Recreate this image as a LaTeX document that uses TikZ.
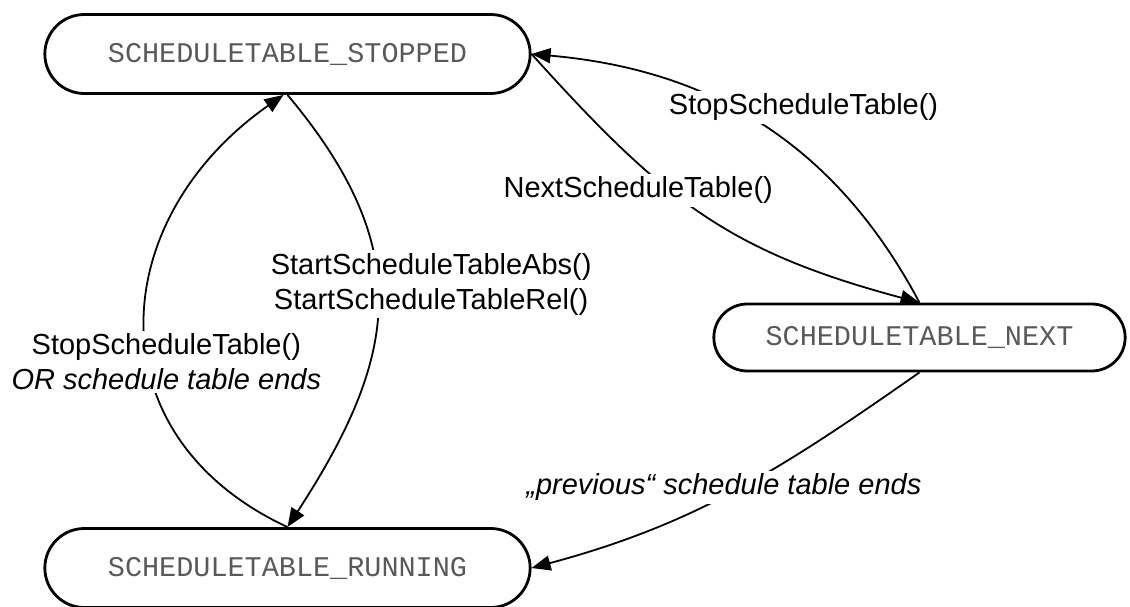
\documentclass[tikz,border=0pt]{standalone}
\usepackage{fontspec}
\setmainfont{Liberation Sans}
\setmonofont{Liberation Mono}
\usepackage{tikz}
\usetikzlibrary{shapes.misc,arrows.meta,positioning}

\tikzset{statebox/.style={rounded rectangle,draw,line width=2.8pt,minimum width=492pt,minimum height=79pt,
    text=black!65,font=\ttfamily\fontsize{28.5}{34}\selectfont}}
\tikzset{trans/.style={->,line width=1.8pt}}
\tikzset{translabel/.style={fill=white,inner sep=3pt,align=center,font=\fontsize{29}{35}\selectfont}}

\begin{document}
\begin{tikzpicture}[>={Triangle[length=19pt,width=15pt]},node distance=2cm,on grid]
  \useasboundingbox (0,0) rectangle (1130pt,-607pt);
  \node[statebox]          (STOPPED) at (287.5pt,-54pt)                  {SCHEDULETABLE\_STOPPED};
  \node[statebox]          (RUNNING) [below=514pt of STOPPED]            {SCHEDULETABLE\_RUNNING};
  \node[statebox,minimum width=418pt,minimum height=67pt]
                           (NEXT)    [below right=283.5pt and 632pt of STOPPED] {SCHEDULETABLE\_NEXT};
\path (RUNNING.north) edge [trans,out=155,in=-145,looseness=1.28]
          node [translabel,pos=0.42,xshift=18pt] {StopScheduleTable()\\\itshape OR schedule table ends} ([xshift=-4pt]STOPPED.south)
      (STOPPED.south) edge [trans,out=-50,in=57,looseness=1.2]
          node [translabel,pos=0.44,xshift=54pt,yshift=-3pt] {StartScheduleTableAbs()\\StartScheduleTableRel()} (RUNNING.north);
\path (STOPPED.east)  edge [trans,out=-48,in=165,looseness=1.1]
          node [translabel,pos=0.4,xshift=-32pt] {NextScheduleTable()} (NEXT.north)
      (NEXT.north)    edge [trans,out=118,in=-5]
          node [translabel,pos=0.55,xshift=62pt,yshift=6pt] {StopScheduleTable()} (STOPPED.east)
      (NEXT.south)    edge [trans,out=-145,in=15]
          node [translabel,pos=0.5,xshift=-11pt,yshift=3pt] {\itshape „previous“ schedule table ends} (RUNNING.east);
\end{tikzpicture}
\end{document}
